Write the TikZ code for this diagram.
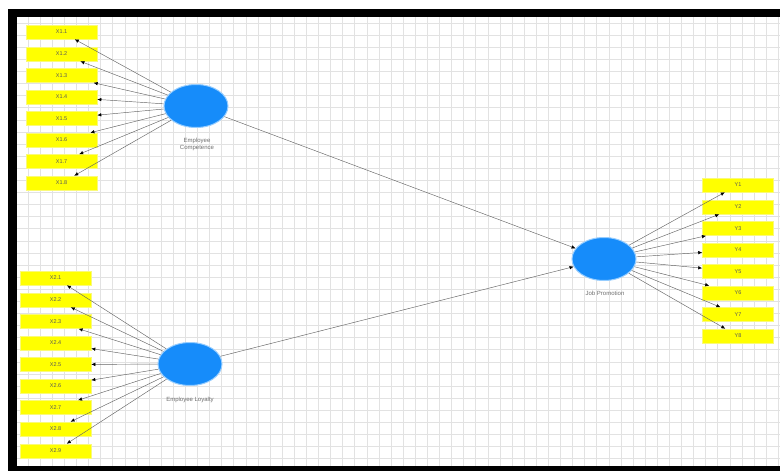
\documentclass[tikz,border=0pt]{standalone}
\usepackage{fontspec}
\setmainfont{Liberation Sans}
\usetikzlibrary{arrows.meta,shapes.geometric}
\definecolor{plsblue}{RGB}{22,140,250}
\definecolor{plsglow}{RGB}{150,205,255}
\definecolor{gridc}{RGB}{226,226,226}
\definecolor{ylw}{RGB}{255,255,0}
\definecolor{ylwedge}{RGB}{250,250,120}
\definecolor{linec}{RGB}{100,100,100}
\definecolor{labc}{RGB}{110,110,110}
\tikzset{
  ind/.style={rectangle, fill=ylw, draw=ylwedge, line width=0.6pt, minimum width=71pt, minimum height=14pt, inner sep=0pt, font=\fontsize{5.5}{6}\selectfont, text=black!65},
  lv/.style={ellipse, fill=plsblue, draw=plsglow, line width=1pt, minimum width=64pt, minimum height=43pt, inner sep=0pt},
  lvlab/.style={font=\fontsize{6}{7}\selectfont, text=labc, align=center},
  refl/.style={draw=linec, line width=0.45pt, -{Latex[length=4pt,width=3.5pt,color=black]}},
  struct/.style={draw=linec, line width=0.45pt, -{Latex[length=4pt,width=3.5pt,color=black]}}
}
\begin{document}
\begin{tikzpicture}[x=1pt,y=-1pt]
\useasboundingbox (0,0) rectangle (780,471);
\fill[white] (0,0) rectangle (780,471);
% grid
\begin{scope}
\clip (17,17) rectangle (780,466);
\foreach \k in {0,...,63} \draw[gridc, line width=0.6pt] ({28+12.1*\k},17) -- ({28+12.1*\k},466);
\foreach \k in {0,...,37} \draw[gridc, line width=0.6pt] (17,{23+12.1*\k}) -- (780,{23+12.1*\k});
\end{scope}
% frame
\fill[black] (8,9) rectangle (780,17);
\fill[black] (8,9) rectangle (17,471);
\fill[black] (8,466) rectangle (780,471);
% indicators
\foreach \i/\y in {1/32,2/54,3/75.5,4/97,5/118.5,6/140,7/161.5,8/183}
  \node[ind] (xa\i) at (61.5,\y) {X1.\i};
\foreach \i/\y in {1/278,2/300,3/321.5,4/343,5/364.5,6/386,7/407.5,8/429,9/451}
  \node[ind] (xb\i) at (55.5,\y) {X2.\i};
\foreach \i/\y in {1/185,2/207,3/228.5,4/250,5/271.5,6/293,7/314.5,8/336}
  \node[ind] (yc\i) at (738,\y) {Y\i};
% latent variables
\node[lv] (EC) at (196,106) {};
\node[lv] (EL) at (190,364) {};
\node[lv] (JP) at (604,259) {};
\node[lvlab] (ECl) at (197,144) {Employee\\Competence};
\node[lvlab] (ELl) at (190,400) {Employee Loyalty};
\node[lvlab] (JPl) at (605,293) {Job Promotion};
% loadings
\foreach \i in {1,...,8} \draw[refl] (EC) -- (xa\i);
\foreach \i in {1,...,9} \draw[refl] (EL) -- (xb\i);
\foreach \i in {1,...,8} \draw[refl] (JP) -- (yc\i);
% structural paths
\draw[struct] (EC) -- (JP);
\draw[struct] (EL) -- (JP);
\end{tikzpicture}
\end{document}
